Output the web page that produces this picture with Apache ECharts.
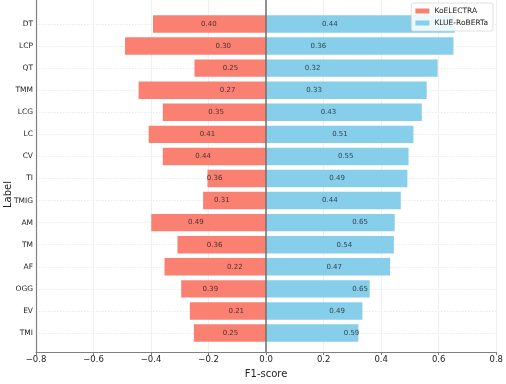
<!DOCTYPE html>
<html>
<head>
<meta charset="utf-8">
<script src="https://cdn.jsdelivr.net/npm/echarts@6/dist/echarts.min.js"></script>
<style>html,body{margin:0;padding:0;background:#fff}#c{width:506px;height:384px}</style>
</head>
<body>
<div id="c"></div>
<script>
const categories = ['DT','LCP','QT','TMM','LCG','LC','CV','TI','TMIG','AM','TM','AF','OGG','EV','TMI'];
const koelectraBar = [0.394,0.491,0.250,0.444,0.360,0.409,0.360,0.205,0.220,0.400,0.309,0.354,0.296,0.266,0.252];
const klueBar = [0.653,0.649,0.594,0.556,0.539,0.510,0.493,0.489,0.466,0.445,0.442,0.429,0.358,0.333,0.319];
const koelectraLabel = [0.40,0.30,0.25,0.27,0.35,0.41,0.44,0.36,0.31,0.49,0.36,0.22,0.39,0.21,0.25];
const klueLabel = [0.44,0.36,0.32,0.33,0.43,0.51,0.55,0.49,0.44,0.65,0.54,0.47,0.65,0.49,0.59];
const xTicks = {min: -0.8, max: 0.8, interval: 0.2};

const FONT = 'DejaVu Sans';
const SALMON = '#fa8072';
const SKY = '#87ceeb';
const fmt = v => (v < -1e-9 ? '\u2212' : '') + Math.abs(v).toFixed(1);

const chart = echarts.init(document.getElementById('c'), null, {renderer: 'canvas'});
chart.setOption({
  animation: false,
  textStyle: {fontFamily: FONT},
  grid: [
    {left: 36, right: 9, top: 0, bottom: 26},
    {left: 36, right: 9, top: 24, bottom: 51}
  ],
  xAxis: [
    {
      gridIndex: 0, type: 'value', min: xTicks.min, max: xTicks.max, interval: xTicks.interval,
      axisLine: {show: true, onZero: false, lineStyle: {color: '#808080', width: 1.2}},
      axisTick: {show: true, length: 3, lineStyle: {color: '#808080'}},
      axisLabel: {formatter: fmt, fontSize: 8.5, color: '#222', margin: 3, fontFamily: FONT},
      splitLine: {show: true, lineStyle: {color: '#ebebeb', width: 0.8}},
      name: 'F1-score', nameLocation: 'middle', nameGap: 12,
      nameTextStyle: {fontSize: 10, color: '#222', fontFamily: FONT}
    },
    {
      gridIndex: 1, type: 'value', min: xTicks.min, max: xTicks.max, show: false
    }
  ],
  yAxis: [
    {
      gridIndex: 0, type: 'value', min: 0, max: 1,
      axisLine: {show: true, onZero: false, lineStyle: {color: '#808080', width: 1.2}},
      axisTick: {show: false}, axisLabel: {show: false}, splitLine: {show: false}
    },
    {
      gridIndex: 1, type: 'category', data: categories, inverse: true, boundaryGap: false,
      axisLine: {show: false},
      axisTick: {show: true, length: 3, lineStyle: {color: '#808080'}},
      axisLabel: {fontSize: 7.5, color: '#222', margin: 3, fontFamily: FONT},
      splitLine: {show: true, lineStyle: {color: '#e6e6e6', width: 0.8, type: [1.5, 1.5]}}
    }
  ],
  legend: {
    data: ['KoELECTRA', 'KLUE-RoBERTa'],
    orient: 'vertical', right: 13, top: 3,
    itemWidth: 14, itemHeight: 5, itemGap: 4,
    padding: [4, 5, 4, 4],
    backgroundColor: 'rgba(255,255,255,0.85)',
    borderColor: '#d8d8d8', borderWidth: 0.8, borderRadius: 2,
    textStyle: {fontSize: 7.5, color: '#222', fontFamily: FONT},
    icon: 'rect'
  },
  graphic: [{
    type: 'text', left: 3, top: 181, rotation: Math.PI / 2,
    style: {text: 'Label', fontSize: 10, fill: '#222', fontFamily: FONT}
  }],
  series: [
    {
      type: 'line', xAxisIndex: 0, yAxisIndex: 0, data: [], silent: true,
      markLine: {
        silent: true, symbol: ['none', 'none'], label: {show: false},
        lineStyle: {color: '#6e6e6e', width: 1.5, type: 'solid'},
        data: [{xAxis: 0}]
      }
    },
    {
      name: 'KoELECTRA', type: 'bar', xAxisIndex: 1, yAxisIndex: 1,
      data: koelectraBar.map(v => -v), barWidth: '79%', barGap: '-100%', clip: false,
      itemStyle: {color: SALMON}
    },
    {
      name: 'KLUE-RoBERTa', type: 'bar', xAxisIndex: 1, yAxisIndex: 1,
      data: klueBar, barWidth: '79%', barGap: '-100%', clip: false,
      itemStyle: {color: SKY}
    },
    {
      type: 'scatter', xAxisIndex: 1, yAxisIndex: 1, symbolSize: 0, silent: true,
      data: koelectraLabel.map((v, i) => [-v / 2, categories[i], v]),
      label: {show: true, position: 'inside', formatter: p => p.value[2].toFixed(2),
        fontSize: 7, color: '#1a1a1a', fontFamily: FONT}
    },
    {
      type: 'scatter', xAxisIndex: 1, yAxisIndex: 1, symbolSize: 0, silent: true,
      data: klueLabel.map((v, i) => [v / 2, categories[i], v]),
      label: {show: true, position: 'inside', formatter: p => p.value[2].toFixed(2),
        fontSize: 7, color: '#1a1a1a', fontFamily: FONT}
    }
  ]
});
</script>
</body>
</html>
